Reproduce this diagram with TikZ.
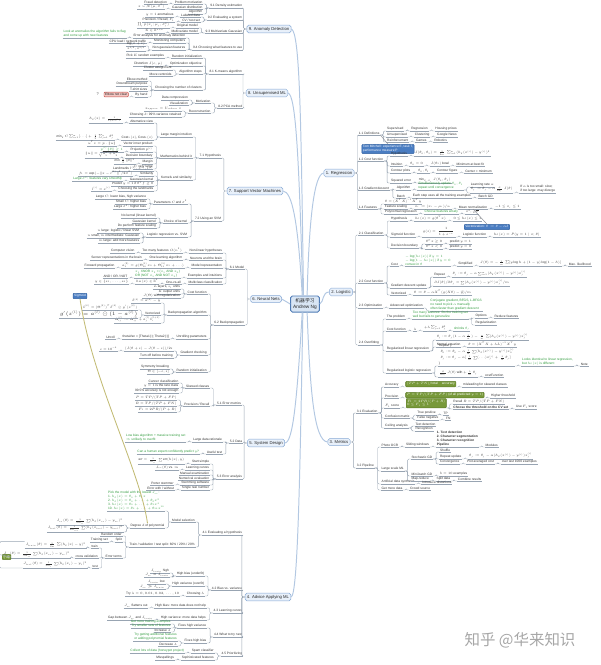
\RequirePackage{fix-cm}
\documentclass[tikz,border=0pt]{standalone}
\usepackage{amsmath,amssymb}
\usepackage{fontspec}
\setmainfont{Liberation Sans}
\newfontfamily\cjkfont{Noto Sans CJK SC}
\usepackage{xcolor}
\usepackage{tikz}
\usetikzlibrary{positioning, calc}

\definecolor{mainfill}{HTML}{E8F0FA}
\definecolor{mainedge}{HTML}{86A8D4}
\definecolor{rootfill}{HTML}{D8E5F4}
\definecolor{rootedge}{HTML}{4F7BB5}
\definecolor{mainline}{HTML}{B3C8E2}
\definecolor{linegray}{HTML}{98A4B2}
\definecolor{greentext}{HTML}{2F9A3C}
\definecolor{bluefill}{HTML}{4A7DC2}
\definecolor{blueedge}{HTML}{2F5E9E}
\definecolor{olivefill}{HTML}{78993A}
\definecolor{oliveedge}{HTML}{5C7A28}
\definecolor{pinkfill}{HTML}{F3C6C2}
\definecolor{pinkedge}{HTML}{C5504A}
\definecolor{relline}{HTML}{C2BB74}
\definecolor{relgray}{HTML}{8C9098}
\definecolor{markgray}{HTML}{A6A6A6}

\begin{document}
\begin{tikzpicture}[
    x=0.025cm, y=-0.025cm,
    topic/.style={rectangle, draw=mainedge, fill=mainfill, line width=0.35pt, rounded corners=1.2pt, inner sep=1.3pt, font=\fontsize{3}{3.6}\selectfont, text=black!85},
    root/.style={topic, draw=rootedge, fill=rootfill, line width=0.6pt, inner sep=1.8pt, align=center, font=\fontsize{3.4}{4.3}\selectfont},
    leaf/.style={inner sep=0.45pt, font=\fontsize{2.3}{2.8}\selectfont, text=black!80, align=left,
        append after command={(\tikzlastnode.south west) edge[draw=linegray, line width=0.3pt] (\tikzlastnode.south east)}},
    ll/.style={leaf, anchor=south east},
    rl/.style={leaf, anchor=south west},
    note/.style={text=greentext},
    bluetag/.style={rectangle, fill=bluefill, draw=blueedge, line width=0.3pt, rounded corners=0.6pt, inner sep=0.8pt, font=\fontsize{2.3}{2.8}\selectfont, text=white, align=left},
    olivetag/.style={bluetag, fill=olivefill, draw=oliveedge, anchor=south west},
    redtag/.style={bluetag, fill=pinkfill, draw=pinkedge, text=black!85, anchor=south east},
    trunk/.style={draw=mainline, line width=0.7pt},
    twig/.style={draw=linegray, line width=0.3pt, rounded corners=0.8pt},
    rel/.style={draw=relline, line width=0.6pt},
    relthin/.style={draw=relgray, line width=0.35pt}
]
\useasboundingbox (0,0) rectangle (600,665);

% Central topic
\node[root] (root) at (305,304) {{\cjkfont 机器学习}\\Andrew Ng};

% Main topics
\node[topic] (anomaly) at (269,29) {9. Anomaly Detection};
\node[topic] (unsup) at (267,93) {8. Unsupervised ML};
\node[topic] (svm) at (255,191) {7. Support Vector Machines};
\node[topic] (neural) at (266,299) {6. Neural Nets};
\node[topic] (design) at (266,443) {5. System Design};
\node[topic] (advice) at (268,597) {4. Advice Applying ML};
\node[topic] (linreg) at (339,173) {1. Regression};
\node[topic] (logreg) at (341,292) {2. Logistic};
\node[topic] (metrics) at (339,442) {3. Metrics};

% 9. Anomaly detection
\node[ll] (an1) at (243,8) {9.1 Density estimation};
\node[ll] (an2) at (243,20) {9.2 Evaluating a system};
\node[ll] (an3) at (243,33) {9.3 Multivariate Gaussian};
\node[ll] (an4) at (243,50) {9.4 Choosing what features to use};
\node[ll] (an1a) at ($(an1.south west)+(-6,-4)$) {Problem motivation};
\node[ll] (an1b) at ($(an1.south west)+(-6,1)$) {Gaussian distribution};
\node[ll] (an1c) at ($(an1.south west)+(-6,6)$) {Algorithm};
\node[ll] (an1a1) at ($(an1a.south west)+(-6,0)$) {Fraud detection};
\node[ll] (an1b1) at ($(an1b.south west)+(-6,0)$) {$x\sim\mathcal{N}(\mu,\sigma^2)$};
\node[ll] (an2a) at ($(an2.south west)+(-6,-3)$) {Labeled data};
\node[ll] (an2b) at ($(an2.south west)+(-6,2)$) {CV / test set};
\node[ll] (an2a1) at ($(an2a.south west)+(-6,0)$) {$y=1$ anomalous};
\node[ll] (an2b1) at ($(an2b.south west)+(-6,0)$) {Precision / Recall, $F_1$};
\node[ll] (an3a) at ($(an3.south west)+(-6,-5)$) {Original model};
\node[ll] (an3b) at ($(an3.south west)+(-6,0)$) {Multivariate model};
\node[ll] (an3a1) at ($(an3a.south west)+(-6,0)$) {$\prod_j p(x_j;\mu_j,\sigma_j^2)$};
\node[ll] (an3b1) at ($(an3b.south west)+(-6,0)$) {$\Sigma\in\mathbb{R}^{n\times n}$};
\node[ll] (an4a) at ($(an4.south west)+(-6,-12)$) {Error analysis for anomaly detection};
\node[ll] (an4b) at ($(an4.south west)+(-6,-7)$) {Monitoring computers};
\node[ll] (an4c) at ($(an4.south west)+(-6,0)$) {Non-gaussian features};
\node[ll, note] (an4a1) at ($(an4a.south west)+(-6,0)$) {Look at anomalies the algorithm fails to flag\\and come up with new features};
\node[ll] (an4b1) at ($(an4b.south west)+(-6,0)$) {CPU load / network traffic};
\node[ll] (an4c1) at ($(an4c.south west)+(-6,-4)$) {$\log(x+c)$};
\node[ll] (an4c2) at ($(an4c.south west)+(-6,1)$) {$x^{1/2}$, $x^{1/3}$};

% 8. Unsupervised learning
\node[ll] (un1) at (243,74) {8.1 K-means algorithm};
\node[ll] (un2) at (243,108) {8.2 PCA method};
\node[ll] (un1a) at ($(un1.south west)+(-6,-16)$) {Random initialization};
\node[ll] (un1b) at ($(un1.south west)+(-6,-8)$) {Optimization objective};
\node[ll] (un1c) at ($(un1.south west)+(-6,0)$) {Algorithm steps};
\node[ll] (un1d) at ($(un1.south west)+(-6,16)$) {Choosing the number of clusters};
\node[ll] (un1a1) at ($(un1a.south west)+(-6,0)$) {Pick $K$ random examples};
\node[ll] (un1b1) at ($(un1b.south west)+(-6,0)$) {Distortion $J(c,\mu)$};
\node[ll] (un1c1) at ($(un1c.south west)+(-6,-4)$) {Cluster assignment};
\node[ll] (un1c2) at ($(un1c.south west)+(-6,2)$) {Move centroids};
\node[ll] (un1d1) at ($(un1d.south west)+(-6,-9)$) {Elbow method};
\node[ll] (un1d2) at ($(un1d.south west)+(-6,-4)$) {Downstream purpose};
\node[ll] (un1d3) at ($(un1d.south west)+(-6,1)$) {T-shirt sizes};
\node[ll] (un1d4) at ($(un1d.south west)+(-6,7)$) {By hand};
\node[redtag, label={[font=\fontsize{2.8}{3}\selectfont, text=black!70]left:?}] (un1d41) at ($(un1d4.south west)+(-6,0)$) {Elbow not clear};
\node[ll] (un2a) at ($(un2.south west)+(-6,-5)$) {Motivation};
\node[ll] (un2b) at ($(un2.south west)+(-6,5)$) {Reconstruction};
\node[ll] (un2a1) at ($(un2a.south west)+(-6,-3)$) {Data compression};
\node[ll] (un2a2) at ($(un2a.south west)+(-6,2)$) {Visualization};
\node[ll] (un2b1) at ($(un2b.south west)+(-6,-2)$) {$x_{approx}=U_{reduce}\,z$};
\node[ll] (un2b2) at ($(un2b.south west)+(-6,4)$) {Choosing $k$: 99\% variance retained};

% 7. Support vector machines
\node[ll] (sv1) at (222,158) {7.1 Hypothesis};
\node[ll] (sv2) at (222,221) {7.2 Using an SVM};
\node[ll] (sv1a) at ($(sv1.south west)+(-6,-21)$) {Large margin intuition};
\node[ll] (sv1b) at ($(sv1.south west)+(-6,0)$) {Mathematics behind it};
\node[ll] (sv1c) at ($(sv1.south west)+(-6,22)$) {Kernels and similarity};
\node[ll] (sv1a1) at ($(sv1a.south west)+(-6,-14)$) {Alternative view};
\node[ll] (sv1a2) at ($(sv1a.south west)+(-6,3)$) {Cost$_1(z)$, Cost$_0(z)$};
\node[ll] (sv1a1a) at ($(sv1a1.south west)+(-6,0)$) {$h_\theta(x)=\frac{1}{1+e^{-\theta^Tx}}$};
\node[ll] (sv1a2a) at ($(sv1a2.south west)+(-6,0)$) {$\min_\theta C\sum_{i=1}^m[\ldots]+\frac12\sum_{j=1}^n\theta_j^2$};
\node[ll] (sv1b1) at ($(sv1b.south west)+(-6,-12)$) {Vector inner product};
\node[ll] (sv1b2) at ($(sv1b.south west)+(-6,-6)$) {Projection $p^{(i)}$};
\node[ll] (sv1b3) at ($(sv1b.south west)+(-6,0)$) {Decision boundary};
\node[ll] (sv1b4) at ($(sv1b.south west)+(-6,6)$) {Margin};
\node[ll] (sv1b5) at ($(sv1b.south west)+(-6,11)$) {$C$ very large};
\node[ll] (sv1b1a) at ($(sv1b1.south west)+(-6,0)$) {$u^Tv=p\cdot\|u\|$};
\node[ll, note] (sv1b2a) at ($(sv1b2.south west)+(-6,0)$) {$p^{(i)}\|\theta\|\ge1$};
\node[ll] (sv1b3a) at ($(sv1b3.south west)+(-6,0)$) {$\|u\|=\sqrt{u_1^2+u_2^2}$};
\node[ll] (sv1b4a) at ($(sv1b4.south west)+(-6,0)$) {$\min\frac12\|\theta\|^2$};
\node[ll] (sv1c1) at ($(sv1c.south west)+(-6,-9)$) {Landmarks $l^{(1)},l^{(2)},l^{(3)}$};
\node[ll] (sv1c2) at ($(sv1c.south west)+(-6,-4)$) {Similarity};
\node[ll] (sv1c3) at ($(sv1c.south west)+(-6,1)$) {Gaussian kernel};
\node[ll] (sv1c4) at ($(sv1c.south west)+(-6,6)$) {Predict $y=1$ if $\theta^Tf\ge0$};
\node[ll] (sv1c5) at ($(sv1c.south west)+(-6,11)$) {Choosing the landmarks};
\node[ll] (sv1c2a) at ($(sv1c2.south west)+(-6,0)$) {$f_1=\exp(-\|x-l^{(1)}\|^2/2\sigma^2)$};
\node[ll, note] (sv1c3a) at ($(sv1c3.south west)+(-6,0)$) {Large $\sigma^2$: features vary smoothly};
\node[ll] (sv1c5a) at ($(sv1c5.south west)+(-6,0)$) {$l^{(i)}=x^{(i)}$};
\node[ll] (sv2a) at ($(sv2.south west)+(-6,-17)$) {Parameters $C$ and $\sigma^2$};
\node[ll] (sv2b) at ($(sv2.south west)+(-6,2)$) {Choice of kernel};
\node[ll] (sv2c) at ($(sv2.south west)+(-6,16)$) {Logistic regression vs. SVM};
\node[ll] (sv2a1) at ($(sv2a.south west)+(-6,-5)$) {Large $C$: lower bias, high variance};
\node[ll] (sv2a2) at ($(sv2a.south west)+(-6,0)$) {Small $C$: higher bias};
\node[ll] (sv2a3) at ($(sv2a.south west)+(-6,5)$) {Large $\sigma^2$: higher bias};
\node[ll] (sv2b1) at ($(sv2b.south west)+(-6,-5)$) {No kernel (linear kernel)};
\node[ll] (sv2b2) at ($(sv2b.south west)+(-6,0)$) {Gaussian kernel};
\node[ll] (sv2b3) at ($(sv2b.south west)+(-6,5)$) {Do perform feature scaling};
\node[ll] (sv2c1) at ($(sv2c.south west)+(-6,-4)$) {$n$ large: logistic / linear SVM};
\node[ll] (sv2c2) at ($(sv2c.south west)+(-6,1)$) {$n$ small, $m$ intermediate: Gaussian};
\node[ll] (sv2c3) at ($(sv2c.south west)+(-6,6)$) {$m$ large: add more features};

% 6. Neural networks
\node[ll] (nn1) at (245,269) {6.1 Model};
\node[ll] (nn2) at (245,325) {6.2 Backpropagation};
\node[ll] (nn1a) at ($(nn1.south west)+(-6,-16)$) {Non-linear hypotheses};
\node[ll] (nn1b) at ($(nn1.south west)+(-6,-9)$) {Neurons and the brain};
\node[ll] (nn1c) at ($(nn1.south west)+(-6,-1)$) {Model representation};
\node[ll] (nn1d) at ($(nn1.south west)+(-6,9)$) {Examples and intuitions};
\node[ll] (nn1e) at ($(nn1.south west)+(-6,15)$) {Multiclass classification};
\node[ll] (nn1a1) at ($(nn1a.south west)+(-6,0)$) {Too many features $O(n^2)$};
\node[ll] (nn1a11) at ($(nn1a1.south west)+(-6,0)$) {Computer vision};
\node[ll] (nn1b1) at ($(nn1b.south west)+(-6,0)$) {One learning algorithm};
\node[ll] (nn1b11) at ($(nn1b1.south west)+(-6,0)$) {Sensor representations in the brain};
\node[ll] (nn1c1) at ($(nn1c.south west)+(-6,0)$) {$a^{(2)}_1=g(\Theta^{(1)}_{10}x_0+\Theta^{(1)}_{11}x_1+\ldots)$};
\node[ll] (nn1c11) at ($(nn1c1.south west)+(-6,0)$) {Forward propagation};
\node[ll, note] (nn1d1) at ($(nn1d.south west)+(-6,0)$) {$x_1$ XNOR $x_2$ = ($x_1$ AND $x_2$)\\OR (NOT $x_1$ AND NOT $x_2$)};
\node[ll] (nn1d11) at ($(nn1d1.south west)+(-6,0)$) {AND / OR / NOT};
\node[ll] (nn1e1) at ($(nn1e.south west)+(-6,0)$) {One-vs-all};
\node[ll] (nn1e11) at ($(nn1e1.south west)+(-6,0)$) {$h_\Theta(x)\in\mathbb{R}^4$};
\node[ll] (nn1e111) at ($(nn1e11.south west)+(-6,0)$) {$y\in\{e_1,\ldots,e_4\}$};
\node[ll] (nn2a) at ($(nn2.south west)+(-6,-31)$) {Cost function};
\node[ll] (nn2b) at ($(nn2.south west)+(-6,-10)$) {Backpropagation algorithm};
\node[ll] (nn2c) at ($(nn2.south west)+(-6,14)$) {Unrolling parameters};
\node[ll] (nn2d) at ($(nn2.south west)+(-6,30)$) {Gradient checking};
\node[ll] (nn2e) at ($(nn2.south west)+(-6,47)$) {Random initialization};
\node[ll] (nn2a1) at ($(nn2a.south west)+(-6,-5)$) {$L$ layers, $s_l$ units};
\node[ll] (nn2a2) at ($(nn2a.south west)+(-6,0)$) {$K$ output units};
\node[ll] (nn2a3) at ($(nn2a.south west)+(-6,4)$) {$J(\Theta)$ with regularization};
\node[ll] (nn2b1) at ($(nn2b.south west)+(-6,-12)$) {$\delta^{(4)}=a^{(4)}-y$};
\node[ll] (nn2b2) at ($(nn2b.south west)+(-6,0)$) {Vectorized};
\node[ll] (nn2b3) at ($(nn2b.south west)+(-6,8)$) {$\Delta^{(l)}_{ij}:=\Delta^{(l)}_{ij}+a^{(l)}_j\delta^{(l+1)}_i$};
\node[ll] (nn2b21) at ($(nn2b2.south west)+(-6,-5)$) {$\delta^{(3)}=(\Theta^{(3)})^T\delta^{(4)}\odot g'(z^{(3)})$};
\node[ll, font=\fontsize{3.6}{4.3}\selectfont] (nn2b22) at ($(nn2b2.south west)+(-6,3)$) {$g'(z^{(l)})=a^{(l)}\odot(1-a^{(l)})$};
\node[ll] (nn2c1) at ($(nn2c.south west)+(-6,0)$) {thetaVec = [Theta1(:); Theta2(:)]};
\node[ll] (nn2c11) at ($(nn2c1.south west)+(-6,0)$) {Unroll};
\node[ll] (nn2d1) at ($(nn2d.south west)+(-6,-4)$) {$(J(\theta+\epsilon)-J(\theta-\epsilon))/2\epsilon$};
\node[ll] (nn2d2) at ($(nn2d.south west)+(-6,3)$) {Turn off before training};
\node[ll] (nn2d11) at ($(nn2d1.south west)+(-6,0)$) {$\epsilon=10^{-4}$};
\node[ll] (nn2e1) at ($(nn2e.south west)+(-6,-3)$) {Symmetry breaking};
\node[ll] (nn2e2) at ($(nn2e.south west)+(-6,2)$) {$\Theta\in[-\epsilon,\epsilon]$};
\node[bluetag] (sig) at (80,296) {Sigmoid};

% 5. System design
\node[ll] (ds1) at (242,405) {5.1 Error metrics};
\node[ll] (ds2) at (243,443) {5.2 Data};
\node[ll] (ds3) at (243,479) {5.3 Error analysis};
\node[ll] (ds1a) at ($(ds1.south west)+(-6,-17)$) {Skewed classes};
\node[ll] (ds1b) at ($(ds1.south west)+(-6,1)$) {Precision / Recall};
\node[ll] (ds1a1) at ($(ds1a.south west)+(-6,-5)$) {Cancer classification};
\node[ll] (ds1a2) at ($(ds1a.south west)+(-6,0)$) {$y=1$ is the rare class};
\node[ll] (ds1a3) at ($(ds1a.south west)+(-6,5)$) {99.5\% accuracy is not enough};
\node[ll] (ds1b1) at ($(ds1b.south west)+(-6,-6)$) {$P=TP/(TP+FP)$};
\node[ll] (ds1b2) at ($(ds1b.south west)+(-6,0)$) {$R=TP/(TP+FN)$};
\node[ll] (ds1b3) at ($(ds1b.south west)+(-6,6)$) {$F_1=2PR/(P+R)$};
\node[ll] (ds2a) at ($(ds2.south west)+(-6,-1)$) {Large data rationale};
\node[ll] (ds2b) at ($(ds2.south west)+(-6,11)$) {Useful test};
\node[ll, note] (ds2a1) at ($(ds2a.south west)+(-6,0)$) {Low bias algorithm + massive training set\\$\Rightarrow$ unlikely to overfit};
\node[ll, note] (ds2b1) at ($(ds2b.south west)+(-6,0)$) {Can a human expert confidently predict $y$?};
\node[ll] (ds3a) at ($(ds3.south west)+(-6,-15)$) {Start simple};
\node[ll] (ds3b) at ($(ds3.south west)+(-6,-9)$) {Learning curves};
\node[ll] (ds3c) at ($(ds3.south west)+(-6,-4)$) {Manual examination};
\node[ll] (ds3d) at ($(ds3.south west)+(-6,1)$) {Numerical evaluation};
\node[ll] (ds3e) at ($(ds3.south west)+(-6,6)$) {Stemming software};
\node[ll] (ds3f) at ($(ds3.south west)+(-6,11)$) {Single real number};
\node[ll] (ds3a1) at ($(ds3a.south west)+(-6,0)$) {$\mathrm{err}=\frac{1}{m_{cv}}\sum\mathrm{err}(h(x),y)$};
\node[ll] (ds3b1) at ($(ds3b.south west)+(-6,0)$) {$J_{cv}(\theta)$ vs. $m$};
\node[ll] (ds3e1) at ($(ds3e.south west)+(-6,0)$) {Porter stemmer};
\node[ll] (ds3f1) at ($(ds3f.south west)+(-6,0)$) {Error with / without};

% 4. Advice for applying ML
\node[ll] (ad1) at (243,535) {4.1 Evaluating a hypothesis};
\node[ll] (ad2) at (243,590) {4.2 Bias vs. variance};
\node[ll] (ad3) at (243,613) {4.3 Learning curves};
\node[ll] (ad4) at (243,637) {4.4 What to try next};
\node[ll] (ad5) at (243,656) {4.5 Prioritizing};
\node[ll] (ad1a) at ($(ad1.south west)+(-6,-13)$) {Model selection};
\node[ll] (ad1b) at ($(ad1.south west)+(-6,12)$) {Train / validation / test split: 60\% / 20\% / 20\%};
\node[ll, note] (ad1a2) at ($(ad1a.south west)+(-6,-11)$) {Pick the model with the lowest $J_{cv}$:\\1. $h_\theta(x)=\theta_0+\theta_1x$\\2. $h_\theta(x)=\theta_0+\ldots+\theta_2x^2$\\3. $h_\theta(x)=\theta_0+\ldots+\theta_3x^3$\\10. $h_\theta(x)=\theta_0+\ldots+\theta_{10}x^{10}$};
\node[ll] (ad1a1) at ($(ad1a.south west)+(-6,6)$) {Degree $d$ of polynomial};
\node[ll] (ad1a11) at ($(ad1a1.south west)+(-6,-3)$) {$J_{cv}(\theta)=\frac{1}{2m_{cv}}\sum(h_\theta(x_{cv})-y_{cv})^2$};
\node[ll] (ad1a12) at ($(ad1a1.south west)+(-6,4)$) {$J_{test}(\theta)=\frac{1}{2m_{test}}\sum(h_\theta(x_{test})-y_{test})^2$};
\node[ll] (ad1b1) at ($(ad1b.south west)+(-6,-11)$) {Random order};
\node[ll] (ad1b2) at ($(ad1b.south west)+(-6,-5)$) {Split};
\node[ll] (ad1b21) at ($(ad1b2.south west)+(-6,0)$) {Training set};
\node[ll] (ad1b3) at ($(ad1b.south west)+(-6,11)$) {Error terms};
\node[ll] (ad1b31) at ($(ad1b3.south west)+(-6,-10)$) {train};
\node[ll] (ad1b32) at ($(ad1b3.south west)+(-6,0)$) {cross validation};
\node[ll] (ad1b33) at ($(ad1b3.south west)+(-6,10)$) {test};
\node[ll] (ad1b311) at ($(ad1b31.south west)+(-4,0)$) {$J_{train}(\theta)=\frac{1}{2m}\sum(h_\theta(x)-y)^2$};
\node[ll] (ad1b321) at ($(ad1b32.south west)+(-4,0)$) {$J_{cv}(\theta)=\frac{1}{2m_{cv}}\sum(h_\theta(x_{cv})-y_{cv})^2$};
\node[ll] (ad1b331) at ($(ad1b33.south west)+(-4,0)$) {$J_{test}(\theta)=\frac{1}{2m_{t}}\sum(h_\theta(x_{t})-y_{t})^2$};
\node[olivetag, anchor=west] (recap) at (2,557) {{\cjkfont 小结}};
\node[ll] (ad2a) at ($(ad2.south west)+(-6,-14)$) {High bias (underfit)};
\node[ll] (ad2b) at ($(ad2.south west)+(-6,-4)$) {High variance (overfit)};
\node[ll] (ad2c) at ($(ad2.south west)+(-6,6)$) {Choosing $\lambda$};
\node[ll] (ad2a1) at ($(ad2a.south west)+(-6,-3)$) {$J_{train}$ high};
\node[ll] (ad2a2) at ($(ad2a.south west)+(-6,1)$) {$J_{cv}\approx J_{train}$};
\node[ll] (ad2b1) at ($(ad2b.south west)+(-6,-2)$) {$J_{train}$ low};
\node[ll] (ad2b2) at ($(ad2b.south west)+(-6,3)$) {$J_{cv}\gg J_{train}$};
\node[ll] (ad2c1) at ($(ad2c.south west)+(-6,0)$) {Try $\lambda=0,0.01,0.02,\ldots,10$};
\node[ll] (ad3a) at ($(ad3.south west)+(-6,-5)$) {High bias: more data does not help};
\node[ll] (ad3b) at ($(ad3.south west)+(-6,7)$) {High variance: more data helps};
\node[ll] (ad3a1) at ($(ad3a.south west)+(-6,0)$) {$J_{cv}$ flattens out};
\node[ll] (ad3b1) at ($(ad3b.south west)+(-6,0)$) {Gap between $J_{cv}$ and $J_{train}$};
\node[ll] (ad4a) at ($(ad4.south west)+(-6,-9)$) {Fixes high variance};
\node[ll] (ad4b) at ($(ad4.south west)+(-6,6)$) {Fixes high bias};
\node[ll, note] (ad4a1) at ($(ad4a.south west)+(-6,-4)$) {Get more training examples};
\node[ll, note] (ad4a2) at ($(ad4a.south west)+(-6,0)$) {Try smaller sets of features};
\node[ll] (ad4a3) at ($(ad4a.south west)+(-6,4)$) {Increase $\lambda$};
\node[ll, note] (ad4b1) at ($(ad4b.south west)+(-6,-2)$) {Try getting additional features\\or adding polynomial features};
\node[ll] (ad4b2) at ($(ad4b.south west)+(-6,3)$) {Decrease $\lambda$};
\node[ll] (ad5a) at ($(ad5.south west)+(-6,-3)$) {Spam classifier};
\node[ll] (ad5b) at ($(ad5.south west)+(-6,4)$) {Sophisticated features};
\node[ll, note] (ad5a1) at ($(ad5a.south west)+(-6,0)$) {Collect lots of data (honeypot project)};
\node[ll] (ad5b1) at ($(ad5b.south west)+(-6,0)$) {Misspellings};

% 1. Regression
\node[rl] (lr1) at (358,135) {1.1 Definitions};
\node[rl] (lr2) at (358,161) {1.2 Cost function};
\node[rl] (lr3) at (358,190) {1.3 Gradient descent};
\node[rl] (lr4) at (358,209) {1.4 Features};
\node[rl] (lr1a) at ($(lr1.south east)+(6,-4)$) {Supervised};
\node[rl] (lr1b) at ($(lr1.south east)+(6,2)$) {Unsupervised};
\node[rl] (lr1c) at ($(lr1.south east)+(6,7)$) {Reinforcement};
\node[rl] (lr1a1) at ($(lr1a.south east)+(6,0)$) {Regression};
\node[rl] (lr1a11) at ($(lr1a1.south east)+(6,0)$) {Housing prices};
\node[rl] (lr1b1) at ($(lr1b.south east)+(6,0)$) {Clustering};
\node[rl] (lr1b11) at ($(lr1b1.south east)+(6,0)$) {Google News};
\node[rl] (lr1c1) at ($(lr1c.south east)+(6,0)$) {Games};
\node[rl] (lr1c11) at ($(lr1c1.south east)+(6,0)$) {Robotics};
\node[bluetag] (mitchell) at (388,149) {Tom Mitchell: experience E, task T,\\performance measure P};
\node[rl] (lr2a) at ($(lr2.south east)+(6,-5)$) {Hypothesis};
\node[rl] (lr2b) at ($(lr2.south east)+(6,5)$) {Intuition};
\node[rl] (lr2c) at ($(lr2.south east)+(6,12)$) {Contour plots};
\node[rl] (lr2d) at ($(lr2.south east)+(6,22)$) {Squared error};
\node[rl] (lr2a1) at ($(lr2a.south east)+(6,0)$) {$J(\theta_0,\theta_1)=\frac{1}{2m}\sum_{i=1}^{m}(h_\theta(x^{(i)})-y^{(i)})^2$};
\node[rl] (lr2b1) at ($(lr2b.south east)+(6,0)$) {$\theta_0=0$};
\node[rl] (lr2b11) at ($(lr2b1.south east)+(6,0)$) {$J(\theta_1)$ bowl};
\node[rl] (lr2b111) at ($(lr2b11.south east)+(6,0)$) {Minimum at best fit};
\node[rl] (lr2c1) at ($(lr2c.south east)+(6,0)$) {$\theta_0,\theta_1$};
\node[rl] (lr2c11) at ($(lr2c1.south east)+(6,0)$) {Contour figure};
\node[rl] (lr2c111) at ($(lr2c11.south east)+(6,0)$) {Center = minimum};
\node[rl] (lr2d1) at ($(lr2d.south east)+(6,0)$) {$\min_{\theta_0,\theta_1}J(\theta_0,\theta_1)$};
\node[rl] (lr3a) at ($(lr3.south east)+(6,0)$) {Algorithm};
\node[rl] (lr3b) at ($(lr3.south east)+(6,8)$) {Batch};
\node[rl, note] (lr3a1) at ($(lr3a.south east)+(6,0)$) {Simultaneously update $\theta_0,\theta_1$\\repeat until convergence};
\node[rl] (lr3a11) at ($(lr3a1.south east)+(6,-3)$) {Learning rate $\alpha$};
\node[rl] (lr3a12) at ($(lr3a1.south east)+(6,3)$) {$\theta_j:=\theta_j-\alpha\frac{\partial}{\partial\theta_j}J(\theta)$};
\node[rl] (lr3a121) at ($(lr3a12.south east)+(6,0)$) {If $\alpha$ is too small: slow;\\if too large: may diverge};
\node[rl] (lr3b1) at ($(lr3b.south east)+(6,0)$) {Each step uses all the training examples};
\node[rl] (lr3b11) at ($(lr3b1.south east)+(6,0)$) {Batch GD};
\node[rl] (lr4a) at ($(lr4.south east)+(6,-5)$) {$\theta=(X^TX)^{-1}X^Ty$};
\node[rl] (lr4b) at ($(lr4.south east)+(6,0)$) {Feature scaling};
\node[rl] (lr4c) at ($(lr4.south east)+(6,5)$) {Polynomial regression};
\node[rl] (lr4b1) at ($(lr4b.south east)+(6,0)$) {$x_i:=(x_i-\mu_i)/s_i$};
\node[rl] (lr4b11) at ($(lr4b1.south east)+(6,0)$) {Mean normalization};
\node[rl] (lr4b111) at ($(lr4b11.south east)+(6,0)$) {$-1\le x_i\le1$};
\node[rl, note] (lr4c1) at ($(lr4c.south east)+(6,0)$) {Choose features wisely};
\node[rl] (lr4c11) at ($(lr4c1.south east)+(6,0)$) {$x^2$, $\sqrt{x}$};
\node[bluetag] (vecnote) at (487,227) {Vectorization: $\theta:=\theta-\alpha\delta$};

% 2. Logistic regression
\node[rl] (lg1) at (358,235) {2.1 Classification};
\node[rl] (lg2) at (358,283) {2.2 Cost function};
\node[rl] (lg3) at (358,308) {2.3 Optimization};
\node[rl] (lg4) at (358,345) {2.4 Overfitting};
\node[rl] (lg1a) at ($(lg1.south east)+(6,-14)$) {Hypothesis};
\node[rl] (lg1b) at ($(lg1.south east)+(6,2)$) {Sigmoid function};
\node[rl] (lg1c) at ($(lg1.south east)+(6,13)$) {Decision boundary};
\node[rl] (lg1a1) at ($(lg1a.south east)+(6,0)$) {$h_\theta(x)=g(\theta^Tx)$};
\node[rl] (lg1a11) at ($(lg1a1.south east)+(6,0)$) {$0\le h_\theta(x)\le1$};
\node[rl] (lg1b1) at ($(lg1b.south east)+(6,0)$) {$\displaystyle g(z)=\frac{1}{1+e^{-z}}$};
\node[rl] (lg1b11) at ($(lg1b1.south east)+(6,0)$) {Logistic function};
\node[rl] (lg1b111) at ($(lg1b11.south east)+(6,0)$) {$h_\theta(x)=P(y=1\mid x;\theta)$};
\node[rl] (lg1c1) at ($(lg1c.south east)+(6,-4)$) {$\theta^Tx\ge0$};
\node[rl] (lg1c2) at ($(lg1c.south east)+(6,1)$) {$\theta^Tx<0$};
\node[rl] (lg1c11) at ($(lg1c1.south east)+(6,0)$) {predict $y=1$};
\node[rl] (lg1c21) at ($(lg1c2.south east)+(6,0)$) {predict $y=0$};
\node[rl] (lg2a) at ($(lg2.south east)+(6,-17)$) {Cost};
\node[rl] (lg2b) at ($(lg2.south east)+(6,5)$) {Gradient descent update};
\node[rl] (lg2c) at ($(lg2.south east)+(6,12)$) {Vectorized};
\node[rl, note] (lg2a1) at ($(lg2a.south east)+(6,0)$) {$-\log(h_\theta(x))$ if $y=1$\\$-\log(1-h_\theta(x))$ if $y=0$\\convex in $\theta$};
\node[rl] (lg2a11) at ($(lg2a1.south east)+(6,0)$) {Simplified};
\node[rl] (lg2a111) at ($(lg2a11.south east)+(6,0)$) {$J(\theta)=-\frac1m\sum[y\log h+(1-y)\log(1-h)]$};
\node[rl] (lg2a1111) at ($(lg2a111.south east)+(6,0)$) {Max. likelihood};
\node[rl] (lg2b1) at ($(lg2b.south east)+(6,-11)$) {Repeat};
\node[rl] (lg2b2) at ($(lg2b.south east)+(6,-2)$) {$\partial J(\theta)/\partial\theta_j=\sum(h_\theta(x^{(i)})-y^{(i)})x_j^{(i)}/m$};
\node[rl] (lg2b11) at ($(lg2b1.south east)+(6,0)$) {$\theta_j:=\theta_j-\alpha\sum_{i=1}^m(h_\theta(x^{(i)})-y^{(i)})x_j^{(i)}$};
\node[rl] (lg2c1) at ($(lg2c.south east)+(6,0)$) {$\theta:=\theta-\alpha X^T(g(X\theta)-\vec y)/m$};
\node[rl] (lg3a) at ($(lg3.south east)+(6,0)$) {Advanced optimization};
\node[rl, note] (lg3a1) at ($(lg3a.south east)+(6,3)$) {Conjugate gradient, BFGS, L-BFGS\\no need to pick $\alpha$ manually\\often faster than gradient descent};
\node[rl] (lg4a) at ($(lg4.south east)+(6,-26)$) {The problem};
\node[rl] (lg4b) at ($(lg4.south east)+(6,-14)$) {Cost function};
\node[rl] (lg4c) at ($(lg4.south east)+(6,6)$) {Regularized linear regression};
\node[rl] (lg4d) at ($(lg4.south east)+(6,28)$) {Regularized logistic regression};
\node[rl, note] (lg4a1) at ($(lg4a.south east)+(6,0)$) {Too many features: fits the training set\\well but fails to generalize};
\node[rl] (lg4a11) at ($(lg4a1.south east)+(6,-1)$) {Options};
\node[rl] (lg4a12) at ($(lg4a1.south east)+(6,6)$) {Regularization};
\node[rl] (lg4a111) at ($(lg4a11.south east)+(6,0)$) {Reduce features};
\node[rl] (lg4b1) at ($(lg4b.south east)+(6,0)$) {$\lambda$};
\node[rl] (lg4b11) at ($(lg4b1.south east)+(6,0)$) {$+\lambda\sum_{j=1}^n\theta_j^2$};
\node[rl, note] (lg4b111) at ($(lg4b11.south east)+(6,0)$) {shrinks $\theta_j$};
\node[rl] (lg4c1) at ($(lg4c.south east)+(6,-11)$) {$\theta_j:=\theta_j(1-\alpha\frac{\lambda}{m})-\frac{\alpha}{m}\sum(h_\theta(x^{(i)})-y^{(i)})x_j^{(i)}$};
\node[rl] (lg4c2) at ($(lg4c.south east)+(6,-4)$) {Normal equation};
\node[rl] (lg4c21) at ($(lg4c2.south east)+(6,0)$) {$\theta=(X^TX+\lambda L)^{-1}X^Ty$};
\node[rl] (lg4d1) at ($(lg4d.south east)+(6,-7)$) {Repeat \{\\\ \ $\theta_0:=\theta_0-\alpha\frac1m\sum(h_\theta(x^{(i)})-y^{(i)})x_0^{(i)}$\\\ \ $\theta_j:=\theta_j-\alpha[\frac1m\sum(\ldots)x_j^{(i)}+\frac{\lambda}{m}\theta_j]$\\\}};
\node[rl, note] (lg4d11) at ($(lg4d1.south east)+(6,0)$) {Looks identical to linear regression,\\but $h_\theta(x)$ is different};
\node[rl] (lg4d111) at ($(lg4d11.south east)+(6,0)$) {Note};
\node[rl] (lg4d2) at ($(lg4d.south east)+(6,4)$) {$\frac{\partial}{\partial\theta_j}J(\theta)$ with $+\frac{\lambda}{m}\theta_j$};
\node[rl] (lg4d21) at ($(lg4d2.south east)+(6,0)$) {costFunction};

% 3. Metrics
\node[rl] (mt1) at (356,413) {3.1 Evaluation};
\node[rl] (mt2) at (356,468) {3.2 Pipeline};
\node[rl] (mt1a) at ($(mt1.south east)+(6,-26)$) {Accuracy};
\node[rl] (mt1b) at ($(mt1.south east)+(6,-15)$) {Precision};
\node[rl] (mt1c) at ($(mt1.south east)+(6,-5)$) {$F_1$ score};
\node[rl] (mt1d) at ($(mt1.south east)+(6,5)$) {Confusion matrix};
\node[rl] (mt1e) at ($(mt1.south east)+(6,15)$) {Ceiling analysis};
\node[olivetag] (mt1a1) at ($(mt1a.south east)+(6,0)$) {$(TP+TN)/\text{total}$ \quad accuracy};
\node[rl] (mt1a11) at ($(mt1a1.south east)+(6,0)$) {misleading for skewed classes};
\node[olivetag] (mt1b1) at ($(mt1b.south east)+(6,0)$) {$P=TP/(TP+FP)$ (of all predicted $y=1$)};
\node[rl] (mt1b11) at ($(mt1b1.south east)+(6,0)$) {Higher threshold};
\node[olivetag] (mt1c1) at ($(mt1c.south east)+(6,0)$) {$F_1=2PR/(P+R)$\\$0\le F_1\le1$};
\node[rl] (mt1c11) at ($(mt1c1.south east)+(6,-4)$) {Recall $R=TP/(TP+FN)$};
\node[rl] (mt1c12) at ($(mt1c1.south east)+(6,1)$) {\textbf{Choose the threshold on the CV set}};
\node[rl] (mt1c121) at ($(mt1c12.south east)+(6,0)$) {Use $F_1$ score};
\node[rl] (mt1d1) at ($(mt1d.south east)+(6,-3)$) {True positive};
\node[rl] (mt1d2) at ($(mt1d.south east)+(6,2)$) {False negative};
\node[rl] (mt1d11) at ($(mt1d1.south east)+(6,0)$) {TP};
\node[rl] (mt1d21) at ($(mt1d2.south east)+(6,0)$) {FN};
\node[rl] (mt1e1) at ($(mt1e.south east)+(6,-2)$) {Text detection};
\node[rl] (mt1e2) at ($(mt1e.south east)+(6,3)$) {Recognition};
\node[rl] (mt2a) at ($(mt2.south east)+(6,-21)$) {Photo OCR};
\node[rl] (mt2b) at ($(mt2.south east)+(6,3)$) {Large scale ML};
\node[rl] (mt2c) at ($(mt2.south east)+(6,16)$) {Artificial data synthesis};
\node[rl] (mt2d) at ($(mt2.south east)+(6,22)$) {Get more data};
\node[rl] (mt2a1) at ($(mt2a.south east)+(6,0)$) {Sliding windows};
\node[rl] (mt2a11) at ($(mt2a1.south east)+(6,0)$) {\textbf{1. Text detection}\\\textbf{2. Character segmentation}\\\textbf{3. Character recognition}\\\textbf{Pipeline}};
\node[rl] (mt2a111) at ($(mt2a11.south east)+(6,0)$) {Modules};
\node[rl] (mt2b1) at ($(mt2b.south east)+(6,-12)$) {Stochastic GD};
\node[rl] (mt2b2) at ($(mt2b.south east)+(6,5)$) {Mini-batch GD};
\node[rl] (mt2b3) at ($(mt2b.south east)+(6,10)$) {Map-reduce};
\node[rl] (mt2b11) at ($(mt2b1.south east)+(6,-7)$) {Shuffle};
\node[rl] (mt2b12) at ($(mt2b1.south east)+(6,0)$) {Repeat update};
\node[rl] (mt2b13) at ($(mt2b1.south east)+(6,5)$) {Convergence};
\node[rl] (mt2b121) at ($(mt2b12.south east)+(6,0)$) {$\theta_j:=\theta_j-\alpha(h_\theta(x^{(i)})-y^{(i)})x^{(i)}_j$};
\node[rl] (mt2b131) at ($(mt2b13.south east)+(6,0)$) {Plot averaged cost};
\node[rl] (mt2b1311) at ($(mt2b131.south east)+(6,0)$) {over last 1000 examples};
\node[rl] (mt2b21) at ($(mt2b2.south east)+(6,0)$) {$b=10$ examples};
\node[rl] (mt2b31) at ($(mt2b3.south east)+(6,0)$) {Split data};
\node[rl] (mt2b311) at ($(mt2b31.south east)+(6,0)$) {Combine results};
\node[rl] (mt2c1) at ($(mt2c.south east)+(6,0)$) {Introduce distortions};
\node[rl] (mt2d1) at ($(mt2d.south east)+(6,0)$) {Crowd source};

% Watermark
\node[font=\cjkfont\fontsize{11}{12}\selectfont, text=markgray] (mark) at (520,640) {知乎 @华来知识};

% Trunks
\draw[trunk] (root.100) .. controls (301,120) and (300,32) .. (anomaly.east);
\draw[trunk] (root.104) .. controls (299,160) and (296,95) .. (unsup.east);
\draw[trunk] (root.108) .. controls (298,220) and (292,192) .. (svm.east);
\draw[trunk] (root.west) -- (neural.east);
\draw[trunk] (root.252) .. controls (297,400) and (293,443) .. (design.east);
\draw[trunk] (root.256) .. controls (300,470) and (298,595) .. (advice.east);
\draw[trunk] (root.76) .. controls (309,220) and (314,174) .. (linreg.west);
\draw[trunk] (root.east) .. controls (324,302) and (322,292) .. (logreg.west);
\draw[trunk] (root.284) .. controls (310,390) and (314,441) .. (metrics.west);

% Branches
\foreach \p/\c in {anomaly/an1, anomaly/an2, anomaly/an3, anomaly/an4, unsup/un1, unsup/un2, svm/sv1, svm/sv2,
    neural/nn1, neural/nn2, design/ds1, design/ds2, design/ds3,
    advice/ad1, advice/ad2, advice/ad3, advice/ad4, advice/ad5}
  \draw[twig] (\p.west) -- ++(-3,0) |- (\c.south east);
\foreach \p/\c in {linreg/lr1, linreg/lr2, linreg/lr3, linreg/lr4, logreg/lg1, logreg/lg2, logreg/lg3, logreg/lg4,
    metrics/mt1, metrics/mt2}
  \draw[twig] (\p.east) -- ++(3,0) |- (\c.south west);
\foreach \p/\c in {an1/an1a, an1/an1b, an1/an1c, an1a/an1a1, an1b/an1b1, an2/an2a, an2/an2b, an2a/an2a1, an2b/an2b1,
    an3/an3a, an3/an3b, an3a/an3a1, an3b/an3b1, an4/an4a, an4/an4b, an4/an4c, an4a/an4a1, an4b/an4b1, an4c/an4c1, an4c/an4c2,
    un1/un1a, un1/un1b, un1/un1c, un1/un1d, un1a/un1a1, un1b/un1b1, un1c/un1c1, un1c/un1c2,
    un1d/un1d1, un1d/un1d2, un1d/un1d3, un1d/un1d4, un1d4/un1d41, un2/un2a, un2/un2b, un2a/un2a1, un2a/un2a2, un2b/un2b1, un2b/un2b2,
    sv1/sv1a, sv1/sv1b, sv1/sv1c, sv1a/sv1a1, sv1a/sv1a2, sv1a1/sv1a1a, sv1a2/sv1a2a,
    sv1b/sv1b1, sv1b/sv1b2, sv1b/sv1b3, sv1b/sv1b4, sv1b/sv1b5, sv1b1/sv1b1a, sv1b2/sv1b2a, sv1b3/sv1b3a, sv1b4/sv1b4a,
    sv1c/sv1c1, sv1c/sv1c2, sv1c/sv1c3, sv1c/sv1c4, sv1c/sv1c5, sv1c2/sv1c2a, sv1c3/sv1c3a, sv1c5/sv1c5a,
    sv2/sv2a, sv2/sv2b, sv2/sv2c, sv2a/sv2a1, sv2a/sv2a2, sv2a/sv2a3, sv2b/sv2b1, sv2b/sv2b2, sv2b/sv2b3, sv2c/sv2c1, sv2c/sv2c2, sv2c/sv2c3,
    nn1/nn1a, nn1/nn1b, nn1/nn1c, nn1/nn1d, nn1/nn1e, nn1a/nn1a1, nn1a1/nn1a11, nn1b/nn1b1, nn1b1/nn1b11, nn1c/nn1c1, nn1c1/nn1c11,
    nn1d/nn1d1, nn1d1/nn1d11, nn1e/nn1e1, nn1e1/nn1e11, nn1e11/nn1e111,
    nn2/nn2a, nn2/nn2b, nn2/nn2c, nn2/nn2d, nn2/nn2e, nn2a/nn2a1, nn2a/nn2a2, nn2a/nn2a3, nn2b/nn2b1, nn2b/nn2b2, nn2b/nn2b3,
    nn2b2/nn2b21, nn2b2/nn2b22, nn2c/nn2c1, nn2c1/nn2c11, nn2d/nn2d1, nn2d/nn2d2, nn2d1/nn2d11, nn2e/nn2e1, nn2e/nn2e2,
    ds1/ds1a, ds1/ds1b, ds1a/ds1a1, ds1a/ds1a2, ds1a/ds1a3, ds1b/ds1b1, ds1b/ds1b2, ds1b/ds1b3, ds2/ds2a, ds2/ds2b, ds2a/ds2a1, ds2b/ds2b1,
    ds3/ds3a, ds3/ds3b, ds3/ds3c, ds3/ds3d, ds3/ds3e, ds3/ds3f, ds3a/ds3a1, ds3b/ds3b1, ds3e/ds3e1, ds3f/ds3f1,
    ad1/ad1a, ad1/ad1b, ad1a/ad1a1, ad1a/ad1a2, ad1a1/ad1a11, ad1a1/ad1a12, ad1b/ad1b1, ad1b/ad1b2, ad1b2/ad1b21, ad1b/ad1b3,
    ad1b3/ad1b31, ad1b3/ad1b32, ad1b3/ad1b33, ad1b31/ad1b311, ad1b32/ad1b321, ad1b33/ad1b331,
    ad2/ad2a, ad2/ad2b, ad2/ad2c, ad2a/ad2a1, ad2a/ad2a2, ad2b/ad2b1, ad2b/ad2b2, ad2c/ad2c1, ad3/ad3a, ad3/ad3b, ad3a/ad3a1, ad3b/ad3b1,
    ad4/ad4a, ad4/ad4b, ad4a/ad4a1, ad4a/ad4a2, ad4a/ad4a3, ad4b/ad4b1, ad4b/ad4b2, ad5/ad5a, ad5/ad5b, ad5a/ad5a1, ad5b/ad5b1}
  \draw[twig] (\p.south west) -- ++(-3,0) |- (\c.south east);
\foreach \p/\c in {lr1/lr1a, lr1/lr1b, lr1/lr1c, lr1a/lr1a1, lr1a1/lr1a11, lr1b/lr1b1, lr1b1/lr1b11, lr1c/lr1c1, lr1c1/lr1c11,
    lr2/lr2a, lr2/lr2b, lr2/lr2c, lr2/lr2d, lr2a/lr2a1, lr2b/lr2b1, lr2b1/lr2b11, lr2b11/lr2b111, lr2c/lr2c1, lr2c1/lr2c11, lr2c11/lr2c111, lr2d/lr2d1,
    lr3/lr3a, lr3/lr3b, lr3a/lr3a1, lr3a1/lr3a11, lr3a1/lr3a12, lr3a12/lr3a121, lr3b/lr3b1, lr3b1/lr3b11,
    lr4/lr4a, lr4/lr4b, lr4/lr4c, lr4b/lr4b1, lr4b1/lr4b11, lr4b11/lr4b111, lr4c/lr4c1, lr4c1/lr4c11,
    lg1/lg1a, lg1/lg1b, lg1/lg1c, lg1a/lg1a1, lg1a1/lg1a11, lg1b/lg1b1, lg1b1/lg1b11, lg1b11/lg1b111, lg1c/lg1c1, lg1c/lg1c2, lg1c1/lg1c11, lg1c2/lg1c21,
    lg2/lg2a, lg2/lg2b, lg2/lg2c, lg2a/lg2a1, lg2a1/lg2a11, lg2a11/lg2a111, lg2a111/lg2a1111, lg2b/lg2b1, lg2b/lg2b2, lg2b1/lg2b11, lg2c/lg2c1,
    lg3/lg3a, lg3a/lg3a1, lg4/lg4a, lg4/lg4b, lg4/lg4c, lg4/lg4d, lg4a/lg4a1, lg4a1/lg4a11, lg4a1/lg4a12, lg4a11/lg4a111,
    lg4b/lg4b1, lg4b1/lg4b11, lg4b11/lg4b111, lg4c/lg4c1, lg4c/lg4c2, lg4c2/lg4c21, lg4d/lg4d1, lg4d1/lg4d11, lg4d11/lg4d111, lg4d/lg4d2, lg4d2/lg4d21,
    mt1/mt1a, mt1/mt1b, mt1/mt1c, mt1/mt1d, mt1/mt1e, mt1a/mt1a1, mt1a1/mt1a11, mt1b/mt1b1, mt1b1/mt1b11, mt1c/mt1c1, mt1c1/mt1c11, mt1c1/mt1c12, mt1c12/mt1c121,
    mt1d/mt1d1, mt1d/mt1d2, mt1d1/mt1d11, mt1d2/mt1d21, mt1e/mt1e1, mt1e/mt1e2,
    mt2/mt2a, mt2/mt2b, mt2/mt2c, mt2/mt2d, mt2a/mt2a1, mt2a1/mt2a11, mt2a11/mt2a111, mt2b/mt2b1, mt2b/mt2b2, mt2b/mt2b3,
    mt2b1/mt2b11, mt2b1/mt2b12, mt2b1/mt2b13, mt2b12/mt2b121, mt2b13/mt2b131, mt2b131/mt2b1311, mt2b2/mt2b21, mt2b3/mt2b31, mt2b31/mt2b311,
    mt2c/mt2c1, mt2d/mt2d1}
  \draw[twig] (\p.south east) -- ++(3,0) |- (\c.south west);

% Summary bracket and relationships
\draw[twig] (ad1b311.north west) -| ($(ad1b321.west)+(-3,0)$) |- (ad1b331.south west);
\draw[twig] (recap.east) -- ($(ad1b321.west)+(-3,0)$);
\draw[rel] (sig.south) .. controls (92,380) and (140,470) .. (ad1a1.north);
\draw[relthin] (lr1.south east) -- (mitchell.north);
\draw[relthin] (lr4b11.south) -- (vecnote.north);

\end{tikzpicture}
\end{document}
